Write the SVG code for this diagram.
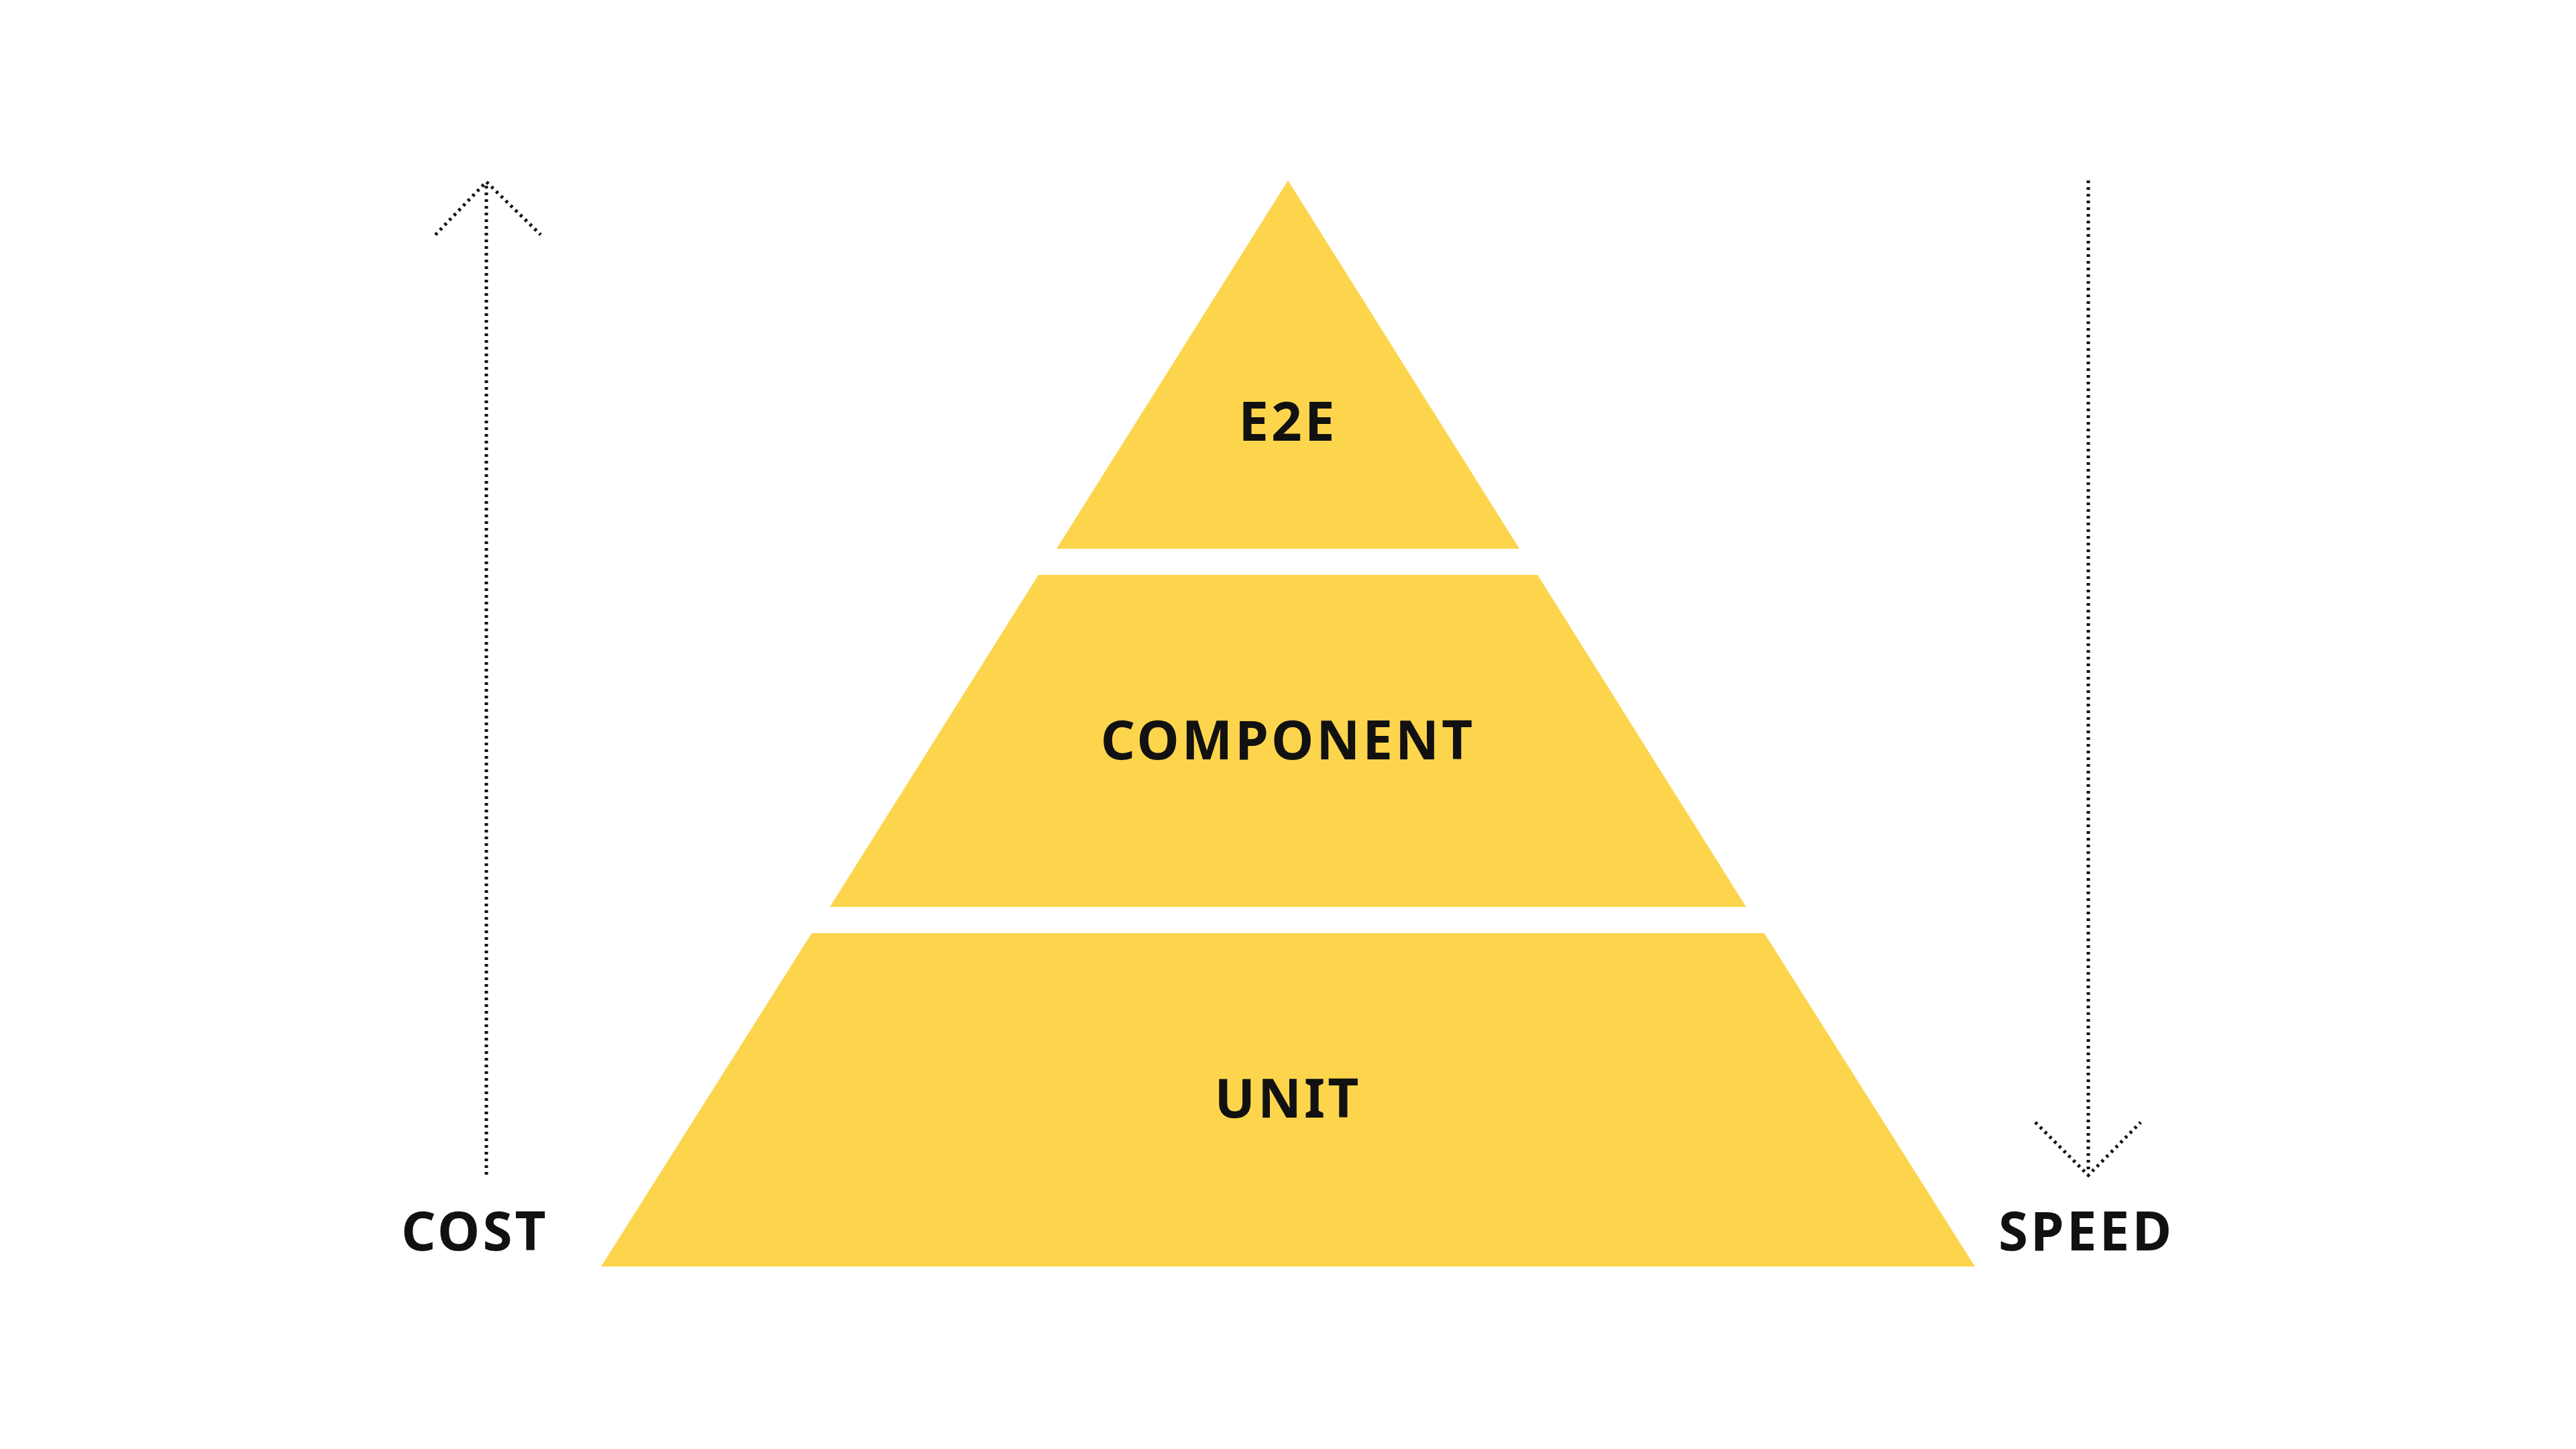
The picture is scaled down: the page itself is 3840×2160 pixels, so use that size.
<svg xmlns="http://www.w3.org/2000/svg" width="3840" height="2160" viewBox="0 0 3840 2160">
<style>
.tier{fill:#FCD54C}
.lbl{font-family:"Noto Sans","Liberation Sans",sans-serif;font-weight:700;font-size:80px;fill:#111;text-anchor:middle;dominant-baseline:central;letter-spacing:4px}
.dot{stroke:#111;stroke-width:5;stroke-dasharray:4 6;fill:none}
</style>
<rect width="3840" height="2160" fill="#fff"/>
<g id="e2e"><polygon class="tier" points="1920,269 2265,818 1575,818"/><text class="lbl" x="1920" y="625">E2E</text></g>
<g id="component"><polygon class="tier" points="1548,857 2292,857 2603,1352 1237,1352"/><text class="lbl" x="1920" y="1100">COMPONENT</text></g>
<g id="unit"><polygon class="tier" points="1210,1391 2630,1391 2944,1888 896,1888"/><text class="lbl" x="1920" y="1634">UNIT</text></g>
<g id="connectors">
<path class="dot" d="M725,1751 V272 M649,350 L725,271 L806,350"/>
<path class="dot" d="M3113,269 V1748 M3034,1673 L3113,1752 L3191,1673"/>
</g>
<g id="cost"><text class="lbl" x="708" y="1832">COST</text></g>
<g id="speed"><text class="lbl" x="3110" y="1832">SPEED</text></g>
</svg>
